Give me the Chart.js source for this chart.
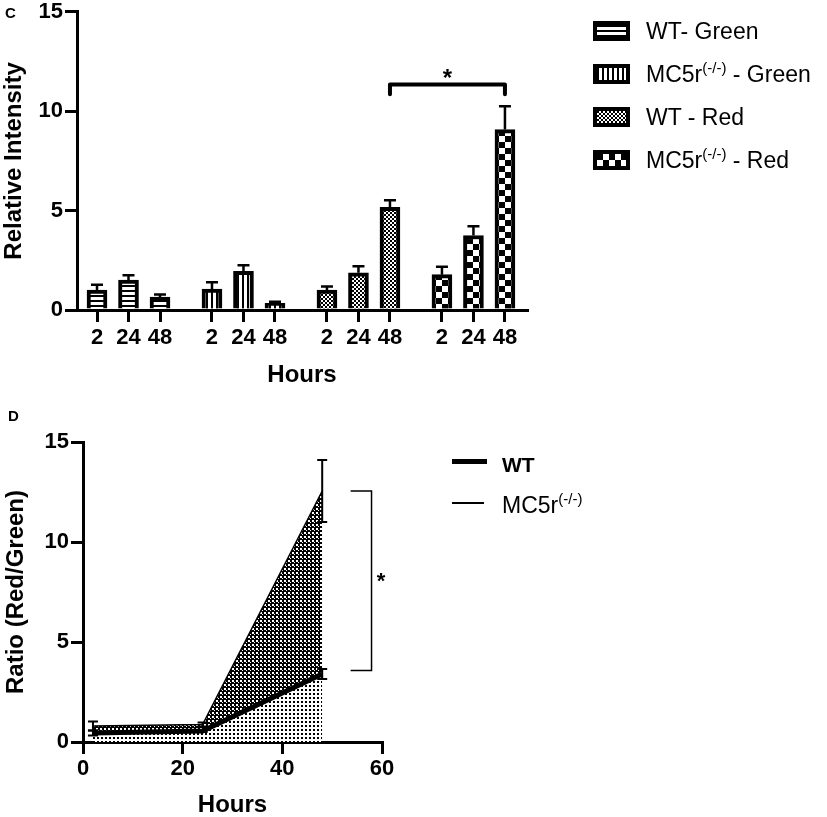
<!DOCTYPE html>
<html>
<head>
<meta charset="utf-8">
<script src="https://cdn.jsdelivr.net/npm/chart.js@4.4.0/dist/chart.umd.min.js"></script>
<style>
    html, body { margin: 0; padding: 0; background: #fff; overflow: hidden; width: 827px; height: 817px; }
    body { font-family: 'Liberation Sans', Arial, sans-serif; color: #000; }
    #wrap { position: relative; width: 827px; height: 817px; }
    canvas.chart { position: absolute; left: 0; }
    #chartC { top: 0; }
    #chartD { top: 400px; }
    .panel { position: absolute; font-weight: bold; font-size: 15px; line-height: 15px; }
    .leg { position: absolute; font-size: 23px; line-height: 23px; white-space: nowrap; }
    .leg sup { font-size: 15px; line-height: 0; vertical-align: 0; position: relative; top: -9px; }
    .swatch { position: absolute; }
    .lineKey { position: absolute; background: #000; }
</style>
</head>
<body>
<div id="wrap">
    <canvas id="chartC" class="chart" width="827" height="400"></canvas>
    <canvas id="chartD" class="chart" width="827" height="430"></canvas>
    <div class="panel" style="left:5px;top:5px;">C</div>
    <div class="panel" style="left:8px;top:408px;">D</div>
    <div id="legendC"></div>
    <div id="legendD"></div>
</div>
<script>
    // ---- panel C: relative intensity bars ----
    const hourLabels = ['2', '24', '48'];
    const barGroups = ['WT- Green', 'MC5r(-/-) - Green', 'WT - Red', 'MC5r(-/-) - Red'];
    const wtGreen = [1.0, 1.5, 0.65];
    const wtGreenErr = [0.27, 0.25, 0.13];
    const koGreen = [1.05, 1.95, 0.33];
    const koGreenErr = [0.35, 0.3, 0.09];
    const wtRed = [1.0, 1.87, 5.17];
    const wtRedErr = [0.18, 0.33, 0.35];
    const koRed = [1.78, 3.75, 9.08];
    const koRedErr = [0.4, 0.47, 1.17];
    const intensityTicks = [0, 5, 10, 15];

    // ---- panel D: red/green ratio ----
    const hoursD = [2, 24, 48];
    const wtRatio = [0.45, 0.55, 3.4];
    const wtRatioErr = [0.12, 0.05, 0.25];
    const koRatio = [0.8, 0.87, 12.55];
    const koRatioErr = [0.22, 0.1, 1.55];
    const lineLabels = ['WT', 'MC5r(-/-)'];
    const ratioTicks = [0, 5, 10, 15];
    const hourTicksD = [0, 20, 40, 60];

    const FONT = "'Liberation Sans', Arial, sans-serif";
    const BLACK = '#000';

    // fill patterns (GraphPad style hatches)
    function tile(kind) {
        const c = document.createElement('canvas');
        const sizes = { hline: [4, 5], vline: [5, 4], fine: [4, 4], dense: [4, 4], coarse: [12, 12], dots: [4, 4] };
        c.width = sizes[kind][0];
        c.height = sizes[kind][1];
        const g = c.getContext('2d');
        g.fillStyle = '#fff';
        g.fillRect(0, 0, c.width, c.height);
        g.fillStyle = BLACK;
        if (kind === 'hline') g.fillRect(0, 0, 4, 2);
        if (kind === 'vline') g.fillRect(0, 0, 2, 4);
        if (kind === 'fine') { g.fillRect(0, 0, 2, 2); g.fillRect(2, 2, 2, 2); }
        if (kind === 'dense') { g.fillRect(0, 0, 4, 4); g.fillStyle = '#fff'; g.fillRect(0, 0, 2, 2); g.fillRect(2, 2, 1, 1); }
        if (kind === 'coarse') { g.fillRect(0, 0, 6, 6); g.fillRect(6, 6, 6, 6); }
        if (kind === 'dots') g.fillRect(1, 1, 2, 2);
        return c;
    }
    const patCtx = document.createElement('canvas').getContext('2d');
    function pattern(kind, dx, dy) {
        const p = patCtx.createPattern(tile(kind), 'repeat');
        if (dx || dy) p.setTransform(new DOMMatrix([1, 0, 0, 1, dx || 0, dy || 0]));
        return p;
    }

    // ========== C ==========
    const barValues = [wtGreen, koGreen, wtRed, koRed];
    const barErrors = [wtGreenErr, koGreenErr, wtRedErr, koRedErr];
    const barKinds = ['hline', 'vline', 'fine', 'coarse'];
    const GROUP_STEP = 3.65;
    const slot = (g, i) => g * GROUP_STEP + i;
    const barSlots = [];
    barGroups.forEach((_, g) => hourLabels.forEach((_, i) => barSlots.push(slot(g, i))));

    const barExtras = {
        id: 'barExtras',
        afterDatasetsDraw(chart) {
            const { ctx, scales: { x, y } } = chart;
            ctx.save();
            ctx.strokeStyle = BLACK;
            ctx.lineWidth = 2.5;
            chart.data.datasets.forEach((ds, di) => {
                chart.getDatasetMeta(di).data.forEach((bar, i) => {
                    const top = y.getPixelForValue(ds.data[i].y + ds.errors[i]);
                    ctx.beginPath();
                    ctx.moveTo(bar.x, bar.y);
                    ctx.lineTo(bar.x, top);
                    ctx.moveTo(bar.x - 6, top);
                    ctx.lineTo(bar.x + 6, top);
                    ctx.stroke();
                });
            });
            // significance bracket WT-Red 48 vs MC5r-Red 48
            const x1 = x.getPixelForValue(slot(2, 2));
            const x2 = x.getPixelForValue(slot(3, 2));
            const yt = y.getPixelForValue(11.35);
            const yl = y.getPixelForValue(10.85);
            ctx.lineWidth = 4;
            ctx.lineCap = 'round';
            ctx.lineJoin = 'round';
            ctx.beginPath();
            ctx.moveTo(x1, yl);
            ctx.lineTo(x1, yt);
            ctx.lineTo(x2, yt);
            ctx.lineTo(x2, yl);
            ctx.stroke();
            ctx.fillStyle = BLACK;
            ctx.font = 'bold 24px ' + FONT;
            ctx.textAlign = 'center';
            ctx.textBaseline = 'alphabetic';
            ctx.fillText('*', (x1 + x2) / 2, y.getPixelForValue(12.0) + 14);
            ctx.restore();
        }
    };

    new Chart(document.getElementById('chartC'), {
        type: 'bar',
        data: {
            datasets: barGroups.map((label, g) => ({
                label,
                data: barValues[g].map((v, i) => ({ x: slot(g, i), y: v })),
                errors: barErrors[g],
                backgroundColor: c => {
                    const sx = c.chart.scales && c.chart.scales.x;
                    if (c.type !== 'data' || !sx) return '#fff';
                    const px = sx.getPixelForValue(c.raw.x);
                    const py = c.chart.scales.y.getPixelForValue(0);
                    return pattern(barKinds[g], Math.round(px - 6), Math.round(py));
                },
                borderColor: BLACK,
                borderWidth: 4,
                barThickness: 20,
                grouped: false
            }))
        },
        options: {
            responsive: false,
            animation: false,
            events: [],
            layout: { padding: { left: 0, top: 10, right: 300, bottom: 8 } },
            plugins: { legend: { display: false }, tooltip: { enabled: false } },
            scales: {
                x: {
                    type: 'linear',
                    min: -0.635,
                    max: 13.65,
                    offset: false,
                    afterBuildTicks: s => { s.ticks = barSlots.map(v => ({ value: v })); },
                    afterFit: s => { s.height = 82; },
                    ticks: {
                        autoSkip: false,
                        maxRotation: 0,
                        padding: 3,
                        color: BLACK,
                        font: { family: FONT, size: 22, weight: 'bold' },
                        callback: (v, i) => hourLabels[i % hourLabels.length]
                    },
                    grid: { offset: false, drawOnChartArea: false, tickLength: 12, lineWidth: 3, color: BLACK },
                    border: { color: BLACK, width: 3 },
                    title: {
                        display: true, text: 'Hours', color: BLACK,
                        font: { family: FONT, size: 24, weight: 'bold' },
                        padding: { top: 0, bottom: 2 }
                    }
                },
                y: {
                    min: intensityTicks[0],
                    max: intensityTicks[intensityTicks.length - 1],
                    afterFit: s => { s.width = 77; },
                    ticks: {
                        stepSize: intensityTicks[1] - intensityTicks[0],
                        padding: 2,
                        color: BLACK,
                        font: { family: FONT, size: 22, weight: 'bold', lineHeight: 0.9 }
                    },
                    grid: { drawOnChartArea: false, tickLength: 12, lineWidth: 3, color: BLACK },
                    border: { color: BLACK, width: 3 },
                    title: {
                        display: true, text: 'Relative Intensity', color: BLACK,
                        font: { family: FONT, size: 24, weight: 'bold' },
                        padding: { top: 0, bottom: 0 }
                    }
                }
            }
        },
        plugins: [barExtras]
    });

    // legend C (html so the superscript stays real text)
    const supText = s => s.replace('(-/-)', '<sup>(-/-)</sup>');
    const legendC = document.getElementById('legendC');
    const legCRows = [31, 73.5, 117, 160];
    barGroups.forEach((label, g) => {
        const sw = document.createElement('canvas');
        sw.width = 37; sw.height = 20;
        sw.className = 'swatch';
        sw.style.left = '593px';
        sw.style.top = (legCRows[g] - 10) + 'px';
        const sg = sw.getContext('2d');
        sg.fillStyle = BLACK;
        sg.fillRect(0, 0, 37, 20);
        sg.fillStyle = pattern(barKinds[g], 4, 4);
        sg.fillRect(4, 4, 29, 12);
        legendC.appendChild(sw);
        const t = document.createElement('div');
        t.className = 'leg';
        t.style.left = '646px';
        t.style.top = (legCRows[g] - 11) + 'px';
        t.innerHTML = supText(label);
        legendC.appendChild(t);
    });

    // ========== D ==========
    const lineExtras = {
        id: 'lineExtras',
        afterDatasetsDraw(chart) {
            const { ctx, scales: { x, y } } = chart;
            ctx.save();
            ctx.strokeStyle = BLACK;
            ctx.lineWidth = 2;
            chart.data.datasets.forEach(ds => {
                ds.data.forEach((p, i) => {
                    const px = x.getPixelForValue(p.x);
                    const hi = y.getPixelForValue(p.y + ds.errors[i]);
                    const lo = y.getPixelForValue(p.y - ds.errors[i]);
                    ctx.beginPath();
                    ctx.moveTo(px, hi); ctx.lineTo(px, lo);
                    ctx.moveTo(px - 5, hi); ctx.lineTo(px + 5, hi);
                    ctx.moveTo(px - 5, lo); ctx.lineTo(px + 5, lo);
                    ctx.stroke();
                });
            });
            // significance bracket at 48 h
            const bx = x.getPixelForValue(57.9);
            const ax = x.getPixelForValue(53.7);
            const t = y.getPixelForValue(12.55);
            const b = y.getPixelForValue(3.58);
            ctx.lineWidth = 1.5;
            ctx.beginPath();
            ctx.moveTo(ax, t); ctx.lineTo(bx, t); ctx.lineTo(bx, b); ctx.lineTo(ax, b);
            ctx.stroke();
            ctx.fillStyle = BLACK;
            ctx.font = 'bold 22px ' + FONT;
            ctx.textAlign = 'center';
            ctx.textBaseline = 'alphabetic';
            ctx.fillText('*', x.getPixelForValue(59.8), y.getPixelForValue(8.3) + 12);
            ctx.restore();
        }
    };

    new Chart(document.getElementById('chartD'), {
        type: 'line',
        data: {
            datasets: [
                {
                    label: lineLabels[0],
                    data: hoursD.map((h, i) => ({ x: h, y: wtRatio[i] })),
                    errors: wtRatioErr,
                    borderColor: BLACK,
                    borderWidth: 5,
                    backgroundColor: pattern('dots'),
                    fill: 'origin',
                    pointRadius: 0,
                    tension: 0
                },
                {
                    label: lineLabels[1],
                    data: hoursD.map((h, i) => ({ x: h, y: koRatio[i] })),
                    errors: koRatioErr,
                    borderColor: BLACK,
                    borderWidth: 1.5,
                    backgroundColor: pattern('dense'),
                    fill: '-1',
                    pointRadius: 0,
                    tension: 0
                }
            ]
        },
        options: {
            responsive: false,
            animation: false,
            events: [],
            layout: { padding: { left: 0, top: 42, right: 445, bottom: 8 } },
            plugins: { legend: { display: false }, tooltip: { enabled: false } },
            scales: {
                x: {
                    type: 'linear',
                    min: hourTicksD[0],
                    max: hourTicksD[hourTicksD.length - 1],
                    afterFit: s => { s.height = 80; },
                    ticks: {
                        stepSize: hourTicksD[1] - hourTicksD[0],
                        maxRotation: 0,
                        padding: 2,
                        color: BLACK,
                        font: { family: FONT, size: 22, weight: 'bold' }
                    },
                    grid: { drawOnChartArea: false, tickLength: 12, lineWidth: 3, color: BLACK },
                    border: { color: BLACK, width: 3 },
                    title: {
                        display: true, text: 'Hours', color: BLACK,
                        font: { family: FONT, size: 24, weight: 'bold' },
                        padding: { top: 0, bottom: 2 }
                    }
                },
                y: {
                    min: ratioTicks[0],
                    max: ratioTicks[ratioTicks.length - 1],
                    afterFit: s => { s.width = 83; },
                    ticks: {
                        stepSize: ratioTicks[1] - ratioTicks[0],
                        padding: 2,
                        color: BLACK,
                        font: { family: FONT, size: 22, weight: 'bold' }
                    },
                    grid: { drawOnChartArea: false, tickLength: 12, lineWidth: 3, color: BLACK },
                    border: { color: BLACK, width: 3 },
                    title: {
                        display: true, text: 'Ratio (Red/Green)', color: BLACK,
                        font: { family: FONT, size: 24, weight: 'bold' },
                        padding: { top: 2, bottom: 0 }
                    }
                }
            }
        },
        plugins: [lineExtras]
    });

    // legend D
    const legendD = document.getElementById('legendD');
    const legDRows = [463, 505];
    const legDWidths = [5, 1.5];
    lineLabels.forEach((label, i) => {
        const k = document.createElement('div');
        k.className = 'lineKey';
        k.style.left = '452px';
        k.style.width = (i === 0 ? 35 : 32) + 'px';
        k.style.height = legDWidths[i] + 'px';
        k.style.top = (legDRows[i] - 2 - legDWidths[i] / 2) + 'px';
        legendD.appendChild(k);
        const t = document.createElement('div');
        t.className = 'leg';
        t.style.left = '502px';
        t.style.top = (legDRows[i] - 11) + 'px';
        if (i === 0) {
            t.style.fontWeight = 'bold';
            t.style.fontSize = '21px';
            t.style.top = (legDRows[i] - 10) + 'px';
        }
        t.innerHTML = supText(label);
        legendD.appendChild(t);
    });
</script>
</body>
</html>
